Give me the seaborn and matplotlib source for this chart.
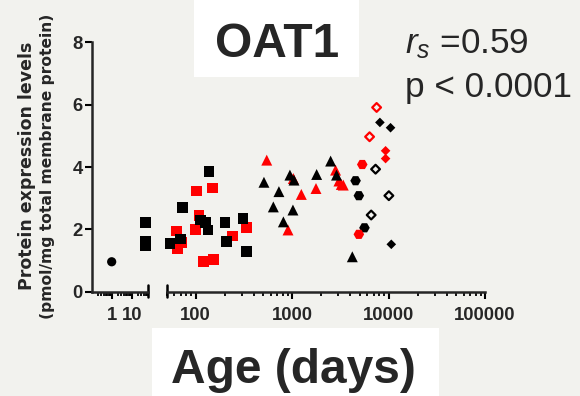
import numpy as np
import pandas as pd
import matplotlib
matplotlib.use("Agg")
import matplotlib.pyplot as plt
from matplotlib.patches import Rectangle
from matplotlib.ticker import LogLocator, NullFormatter
import seaborn as sns

# ---------------- data ----------------
# first (left) axis segment
early_circle_age = [1]
early_circle_level = [0.96]
early_sq_age = [51, 50, 49]
early_sq_level = [2.21, 1.63, 1.47]

# second (right) axis segment
sq_black_age = [54, 70, 73, 113, 127, 134, 137, 201, 210, 309, 337]
sq_black_level = [1.55, 1.69, 2.69, 2.30, 2.21, 1.98, 3.85, 2.22, 1.62, 2.35, 1.30]
sq_red_age = [63, 65, 72, 100, 102, 108, 120, 149, 153, 240, 337]
sq_red_level = [1.95, 1.39, 1.57, 2.00, 3.23, 2.44, 0.96, 3.33, 1.04, 1.79, 2.06]
tri_black_age = [510, 638, 729, 811, 948, 1019, 1045, 1795, 2506, 2885, 4207]
tri_black_level = [3.51, 2.72, 3.21, 2.24, 3.74, 2.62, 3.58, 3.76, 4.19, 3.74, 1.12]
tri_red_age = [545, 906, 1028, 1245, 1767, 2820, 3055, 3234, 3390]
tri_red_level = [4.22, 1.98, 3.63, 3.12, 3.31, 3.90, 3.55, 3.44, 3.42]
hex_black_age = [4548, 4917, 5623]
hex_black_level = [3.56, 3.08, 2.05]
hex_red_age = [5334, 4917]
hex_red_level = [4.08, 1.84]
dia_black_age = [8128, 10480, 10670]
dia_black_level = [5.43, 5.26, 1.52]
dia_red_age = [9310, 9310]
dia_red_level = [4.52, 4.27]
odia_black_age = [7330, 10070, 6600]
odia_black_level = [3.93, 3.08, 2.46]
odia_red_age = [7516, 6353]
odia_red_level = [5.91, 4.97]

y_ticks = [0, 2, 4, 6, 8]
x_ticks_left = [1, 10]
x_tick_labels_left = ["1", "10"]
x_ticks_right = [100, 1000, 10000, 100000]
x_tick_labels_right = ["100", "1000", "10000", "100000"]

title = "OAT1"
x_label = "Age (days)"
y_label_1 = "Protein expression levels"
y_label_2 = "(pmol/mg total membrane protein)"
stat_1 = r"$r_s$ =0.59"
stat_2 = "p < 0.0001"

# ---------------- assemble ----------------
groups = [
    ("early_circle", "left", early_circle_age, early_circle_level),
    ("early_sq", "left", early_sq_age, early_sq_level),
    ("sq_red", "right", sq_red_age, sq_red_level),
    ("sq_black", "right", sq_black_age, sq_black_level),
    ("tri_red", "right", tri_red_age, tri_red_level),
    ("tri_black", "right", tri_black_age, tri_black_level),
    ("hex_black", "right", hex_black_age, hex_black_level),
    ("hex_red", "right", hex_red_age, hex_red_level),
    ("dia_black", "right", dia_black_age, dia_black_level),
    ("dia_red", "right", dia_red_age, dia_red_level),
    ("odia_black", "right", odia_black_age, odia_black_level),
    ("odia_red", "right", odia_red_age, odia_red_level),
]
rows = []
for name, seg, ages, levels in groups:
    for a, l in zip(ages, levels):
        rows.append({"group": name, "segment": seg, "age": a, "level": l})
df = pd.DataFrame(rows)

RED = "#ff0000"
BLK = "#000000"
styles = {
    "early_circle": dict(marker="o", color=BLK, filled=True, s=44),
    "early_sq": dict(marker="s", color=BLK, filled=True, s=60),
    "sq_red": dict(marker="s", color=RED, filled=True, s=60),
    "sq_black": dict(marker="s", color=BLK, filled=True, s=60),
    "tri_red": dict(marker="^", color=RED, filled=True, s=62),
    "tri_black": dict(marker="^", color=BLK, filled=True, s=62),
    "hex_black": dict(marker="H", color=BLK, filled=True, s=58),
    "hex_red": dict(marker="H", color=RED, filled=True, s=58),
    "dia_black": dict(marker="D", color=BLK, filled=True, s=24),
    "dia_red": dict(marker="D", color=RED, filled=True, s=24),
    "odia_black": dict(marker="D", color=BLK, filled=False, s=20),
    "odia_red": dict(marker="D", color=RED, filled=False, s=20),
}

# ---------------- style ----------------
sns.set_style("ticks")
BG = "#f2f2ee"
plt.rcParams["font.family"] = ["Liberation Sans", "DejaVu Sans"]
plt.rcParams["mathtext.fontset"] = "custom"
plt.rcParams["mathtext.it"] = "Liberation Sans:italic"
plt.rcParams["mathtext.rm"] = "Liberation Sans"
plt.rcParams["axes.linewidth"] = 1.8

W, H = 580, 396
def fx(px):
    return px / W
def fy(py):
    return 1 - py / H

fig = plt.figure(figsize=(W / 100, H / 100), dpi=100)
fig.patch.set_facecolor(BG)

y0_px, y8_px = 291.7, 42.3
ax_l = fig.add_axes([fx(91.7), fy(y0_px), (148.3 - 91.7) / W, (y0_px - y8_px) / H])
ax_r = fig.add_axes([fx(166.7), fy(y0_px), (485.0 - 166.7) / W, (y0_px - y8_px) / H], sharey=ax_l)

for ax in (ax_l, ax_r):
    ax.set_facecolor("none")
    ax.set_xscale("log")
    for sp in ("top", "right"):
        ax.spines[sp].set_visible(False)

axes = {"left": ax_l, "right": ax_r}
for name, seg, _, _ in groups:
    sub = df[df["group"] == name]
    st = styles[name]
    ax = axes[seg]
    if st["filled"]:
        sns.scatterplot(data=sub, x="age", y="level", ax=ax, marker=st["marker"],
                        color=st["color"], s=st["s"], linewidth=0, edgecolor="none",
                        zorder=3, clip_on=False, legend=False)
    else:
        sns.scatterplot(data=sub, x="age", y="level", ax=ax, marker=st["marker"],
                        facecolor="none", edgecolor=st["color"], s=st["s"], linewidth=1.6,
                        zorder=3, clip_on=False, legend=False)

ax_l.set_xlim(0.1, 68)
ax_r.set_xlim(50, 100000)
ax_l.set_ylim(0, 8)

tick_font = dict(fontsize=13.3, fontweight="bold")
ax_l.set_yticks(y_ticks, [str(t) for t in y_ticks], **tick_font)
ax_l.set_xticks(x_ticks_left, x_tick_labels_left, **tick_font)
ax_r.set_xticks(x_ticks_right, x_tick_labels_right, **tick_font)
for ax in (ax_l, ax_r):
    ax.xaxis.set_minor_locator(LogLocator(base=10, subs=np.arange(2, 10), numticks=20))
    ax.xaxis.set_minor_formatter(NullFormatter())
    ax.tick_params(axis="x", which="major", length=5, width=1.5, pad=6, color="k")
    ax.tick_params(axis="x", which="minor", length=3, width=1.3, color="k")
    ax.set_xlabel("")
    ax.set_ylabel("")
ax_l.tick_params(axis="y", which="major", length=5, width=1.5, pad=1.5, color="k")
ax_r.spines["left"].set_visible(False)
ax_r.tick_params(axis="y", which="both", left=False, labelleft=False)

# break end marks
ax_l.plot([1, 1], [-0.022, 0.026], transform=ax_l.transAxes, color="k", lw=1.8, clip_on=False)
ax_r.plot([0, 0], [-0.022, 0.026], transform=ax_r.transAxes, color="k", lw=1.8, clip_on=False)

# white boxes behind title and x label
fig.add_artist(Rectangle((fx(194), fy(77)), (359 - 194) / W, 77 / H, transform=fig.transFigure,
                         facecolor="white", edgecolor="none", zorder=-1))
fig.add_artist(Rectangle((fx(152), 0), (439 - 152) / W, (396 - 328) / H, transform=fig.transFigure,
                         facecolor="white", edgecolor="none", zorder=-1))

fig.text(fx(277), fy(57), title, ha="center", va="baseline", fontsize=34.5, fontweight="bold")
fig.text(fx(293), fy(383), x_label, ha="center", va="baseline", fontsize=34.5, fontweight="bold")
fig.text(fx(405), fy(53.3), stat_1, ha="left", va="baseline", fontsize=25.3)
fig.text(fx(405), fy(96.7), stat_2, ha="left", va="baseline", fontsize=25.3)

fig.text(fx(27), fy(166), y_label_1, rotation=90, ha="center", va="center",
         fontsize=12.5, fontweight="bold", family="DejaVu Sans")
fig.text(fx(47.7), fy(166.7), y_label_2, rotation=90, ha="center", va="center",
         fontsize=11.2, fontweight="bold", family="DejaVu Sans")

fig.savefig("out.png", dpi=100, facecolor=BG)
